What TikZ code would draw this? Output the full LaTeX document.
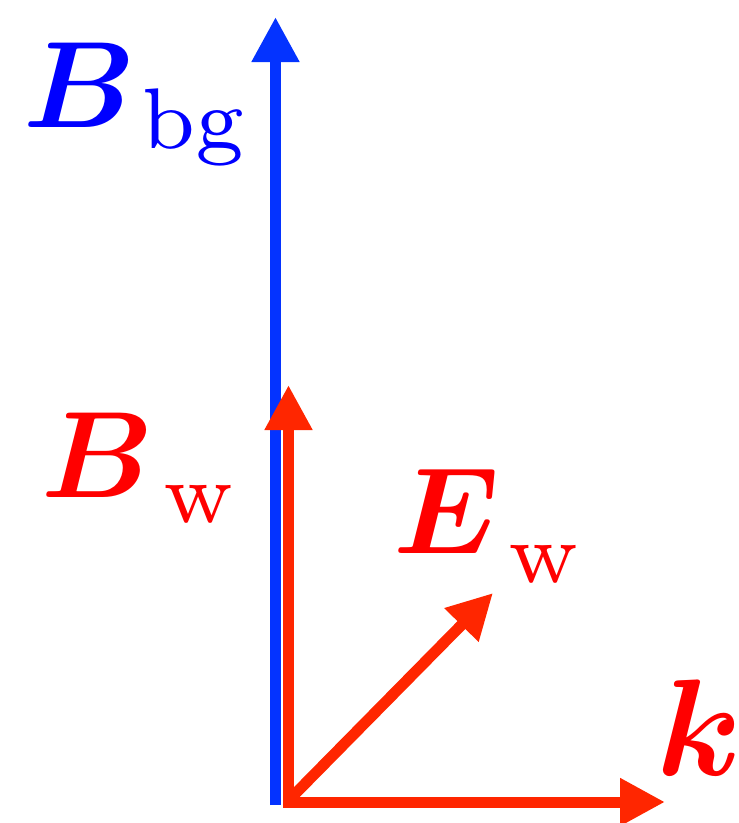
\documentclass[tikz,border=0pt]{standalone}
\usepackage{fix-cm}
\usepackage{bm}
\usetikzlibrary{arrows.meta}
\definecolor{arrowblue}{RGB}{4,51,255}
\definecolor{arrowred}{RGB}{255,38,0}
\definecolor{labelblue}{RGB}{0,0,255}
\definecolor{labelred}{RGB}{255,0,0}
\tikzset{
  vec/.style={line width=11pt, -{Triangle[length=45pt,width=45pt]}},
  lbl/.style={inner sep=0pt, anchor=base west, scale=12.3},
  sublbl/.style={inner sep=0pt, anchor=base west, scale=12.3}
}
\begin{document}
\begin{tikzpicture}[x=1pt,y=-1pt]
\useasboundingbox (0,0) rectangle (739,823);
% points
\coordinate (O1) at (275.5,805);
\coordinate (Bbgtip) at (275.5,17);
\coordinate (O2) at (288.5,802);
\coordinate (O3) at (283,802);
\coordinate (O4) at (289,800);
\coordinate (Bwtip) at (288.5,385);
\coordinate (ktip) at (665,802);
\coordinate (Ewtip) at (493,593);
% arrows
\draw[vec, arrowblue] (O1) -- (Bbgtip);
\draw[vec, arrowred] (O2) -- (Bwtip);
\draw[vec, arrowred] (O4) -- (Ewtip);
\draw[vec, arrowred] (O3) -- (ktip);
% labels
\node[lbl, text=labelblue] (Lbg) at (21,127) {$\bm{B}$};
\node[sublbl, text=labelblue] (Lbgsub) at (139,148) {$\scriptstyle\mathrm{bg}$};
\node[lbl, text=labelred] (Lw) at (39,497) {$\bm{B}$};
\node[sublbl, text=labelred] (Lwsub) at (161,522) {$\scriptstyle\mathrm{w}$};
\node[lbl, text=labelred] (LE) at (391,553) {$\bm{E}$};
\node[sublbl, text=labelred] (LEsub) at (506,582) {$\scriptstyle\mathrm{w}$};
\node[lbl, text=labelred, scale=1.12] (Lk) at (654,775) {$\bm{k}$};
\end{tikzpicture}
\end{document}
